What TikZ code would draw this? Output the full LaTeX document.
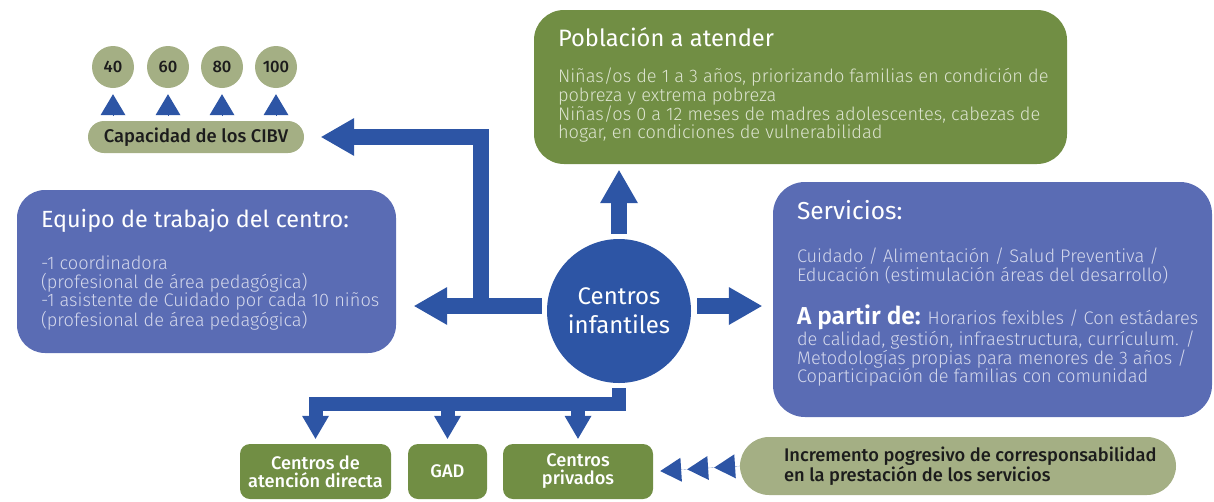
\documentclass[tikz,border=0pt]{standalone}
\usepackage{fontspec}
\setmainfont{Fira Sans}
\newfontfamily\lightfont{Fira Sans Light}
\newfontfamily\medfont{Fira Sans Medium}
\usetikzlibrary{arrows.meta,calc,positioning}

\definecolor{arrowblue}{HTML}{2D55A5}
\definecolor{boxblue}{HTML}{5A6CB4}
\definecolor{darkgreen}{HTML}{718E44}
\definecolor{olive}{HTML}{A4AF84}
\definecolor{bluetxt}{HTML}{D4D8EC}
\definecolor{greentxt}{HTML}{DCE3CF}
\definecolor{darktxt}{HTML}{1C1C1C}

\tikzset{
  bigbox/.style={rounded corners=30pt, inner sep=0pt},
  smallbox/.style={rounded corners=10pt, fill=darkgreen, text=white, align=center,
    minimum height=55pt, inner sep=0pt, font=\medfont\fontsize{18.2}{18}\selectfont},
  pill/.style={rounded corners=16pt, fill=olive, text=darktxt, inner sep=0pt},
  bubble/.style={circle, fill=olive, text=darktxt, minimum size=42pt, inner sep=0pt,
    font=\medfont\fontsize{16.6}{18}\selectfont},
  ttl/.style={text=white, inner sep=0pt, anchor=base west, font=\fontsize{23.7}{26}\selectfont},
  txt/.style={inner sep=0pt, anchor=base west, align=left, font=\lightfont\fontsize{18.2}{18.6}\selectfont},
  fat/.style={line width=15.5pt, arrowblue, line join=miter,
    -{Triangle[length=33pt,width=38pt,line width=0pt]}},
  thin/.style={line width=14pt, arrowblue, line join=miter,
    -{Triangle[length=23pt,width=27pt,line width=0pt]}},
  uptri/.style={line width=0.1pt, arrowblue, -{Triangle[length=21pt,width=25pt,line width=0pt]}},
  chev/.style={line width=0.1pt, arrowblue,
    -{Triangle[length=21pt,width=24pt,line width=0pt,sep=6pt]
      Triangle[length=21pt,width=24pt,line width=0pt,sep=6pt]
      Triangle[length=21pt,width=24pt,line width=0pt]}}
}

\begin{document}
\begin{tikzpicture}[x=1pt,y=-1pt]
  \useasboundingbox (0,0) rectangle (1214,501);

  % boxes
  \node[bigbox, fill=darkgreen, minimum width=533pt, minimum height=154pt] (pob) at (800.5,87) {};
  \node[bigbox, fill=boxblue, rounded corners=28pt, minimum width=379pt, minimum height=163pt] (eq) at (206.5,271.5) {};
  \node[bigbox, fill=boxblue, rounded corners=32pt, minimum width=439pt, minimum height=235pt] (srv) at (992.5,299.5) {};
  \node[circle, fill=arrowblue, minimum size=144pt, inner sep=0pt, text=white, align=center,
    font=\fontsize{24}{29}\selectfont] (ci) at (619,311) {Centros\\infantiles};

  % the last line of a text gives its base
  \node[ttl] (pobT) at ([shift={(24,37)}]pob.north west) {Población a atender};
  \node[txt, text=greentxt] (pobB) at ([shift={(24,128.8)}]pob.north west)
    {Niñas/os de 1 a 3 años, priorizando familias en condición de\\
     pobreza y extrema pobreza\\
     Niñas/os 0 a 12 meses de madres adolescentes, cabezas de\\
     hogar, en condiciones de vulnerabilidad};

  \node[ttl, font=\fontsize{23.4}{26}\selectfont] (eqT) at ([shift={(24,38)}]eq.north west) {Equipo de trabajo del centro:};
  \node[txt, text=bluetxt] (eqB) at ([shift={(24,136.8)}]eq.north west)
    {-1 coordinadora\\
     (profesional de área pedagógica)\\
     -1 asistente de Cuidado por cada 10 niños\\
     (profesional de área pedagógica)};

  \node[ttl, font=\fontsize{24.5}{27}\selectfont] (srvT) at ([shift={(24,38)}]srv.north west) {Servicios:};
  \node[txt, text=bluetxt] (srvB) at ([shift={(24,99.6)}]srv.north west)
    {Cuidado / Alimentación / Salud Preventiva /\\
     Educación (estimulación áreas del desarrollo)};
  \node[txt, text=bluetxt] (srvC) at ([shift={(24,200.8)}]srv.north west)
    {{\bfseries\color{white}\fontsize{24.5}{27}\selectfont A partir de:} Horarios fexibles / Con estádares\\
     de calidad, gestión, infraestructura, currículum. /\\
     Metodologías propias para menores de 3 años /\\
     Coparticipación de familias con comunidad};

  % capacidad
  \node[pill, minimum width=216pt, minimum height=32pt, font=\medfont\fontsize{18.4}{18}\selectfont] (cap) at (196,137) {Capacidad de los CIBV};
  \foreach \v/\x in {40/113, 60/168, 80/222, 100/276} {
    \node[bubble] (n\v) at (\x,67) {\v};
    \draw[uptri] ($(n\v.south |- cap.north)+(0,-6)$) -- ($(n\v.south)+(0,6)$);
  }

  % bottom
  \node[smallbox, minimum width=151pt] (b1) at (315.5,471.5) {Centros de\\atención directa};
  \node[smallbox, minimum width=79pt] (b2) at (447.5,471.5) {GAD};
  \node[smallbox, minimum width=150pt] (b3) at (578,471.5) {Centros\\privados};
  \node[pill, rounded corners=29pt, minimum width=436pt, minimum height=58pt] (inc) at (958,466) {};
  \node[inner sep=0pt, anchor=west, align=left, text=darktxt, font=\medfont\fontsize{18.3}{20}\selectfont]
    (incT) at ($(inc.west)+(44,0)$) {Incremento pogresivo de corresponsabilidad\\en la prestación de los servicios};

  % arrows
  \coordinate (jn) at (481,306);
  \coordinate (bar) at (0,403.5);
  \draw[fat, shorten >=18pt] ($(ci.west |- jn)+(-5,0)$) -- (eq.east |- jn);
  \draw[fat, shorten >=17pt] ($(jn)+(0,7.5)$) |- (cap.east);
  \draw[fat, shorten >=11pt] ($(ci.east |- jn)+(6,0)$) -- (srv.west |- jn);
  \draw[fat, shorten >=6pt] ($(ci.north)+(0,-5)$) -- (ci.north |- pob.south);
  \draw[thin, shorten >=5pt] ($(ci.south)+(0,5)$) |- (b1.north |- bar) -- (b1.north);
  \draw[thin, shorten >=5pt] (b2.north |- bar) -- (b2.north);
  \draw[thin, shorten >=5pt] (b3.north |- bar) -- (b3.north);
  \draw[chev, shorten >=7pt] (inc.west) -- (b3.east);
\end{tikzpicture}
\end{document}
